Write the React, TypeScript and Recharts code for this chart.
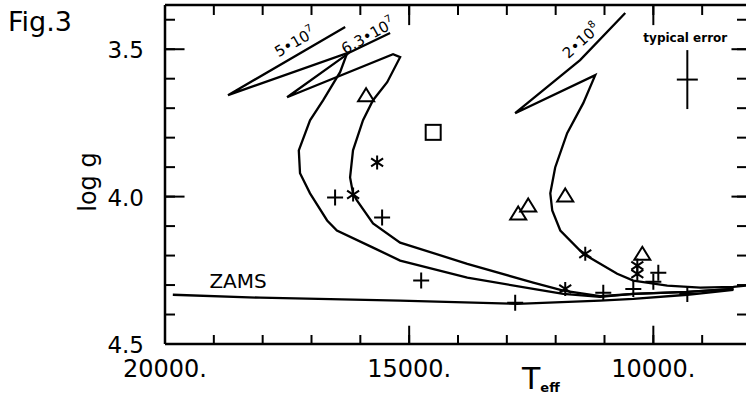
import React from 'react';
import { ComposedChart, Line, Scatter, XAxis, YAxis, ReferenceLine, ReferenceDot } from 'recharts';

// isochrones, [Teff, log g], drawn in path order (cool end along the ZAMS first)
const iso5e7: [number, number][] = [
  [8360, 4.313], [9300, 4.323], [10410, 4.33], [11090, 4.34], [11845, 4.33], [12460, 4.313],
  [13810, 4.275], [15185, 4.217], [15740, 4.173], [16480, 4.115], [16680, 4.081], [17030, 3.989],
  [17235, 3.921], [17260, 3.843], [17030, 3.741], [16760, 3.673], [16415, 3.578], [16270, 3.513],
  [18710, 3.656], [16310, 3.425],
];
const iso63e7: [number, number][] = [
  [8360, 4.313], [9300, 4.323], [10410, 4.33], [11090, 4.338], [11845, 4.319], [12460, 4.292],
  [13810, 4.228], [15185, 4.156], [15740, 4.091], [16070, 4.013], [16150, 3.989], [16210, 3.935],
  [16150, 3.843], [15945, 3.741], [15740, 3.673], [15450, 3.612], [15185, 3.527], [15330, 3.517],
  [17500, 3.663], [16210, 3.51], [15390, 3.445],
];
const iso2e8: [number, number][] = [
  [8000, 4.3], [8360, 4.306], [9040, 4.309], [9715, 4.302], [10410, 4.285], [10740, 4.262],
  [11435, 4.194], [11905, 4.115], [12070, 4.047], [12110, 3.989], [12010, 3.901], [11765, 3.785],
  [11435, 3.683], [11190, 3.588], [12830, 3.717], [11500, 3.537], [10575, 3.377],
];
const zams: [number, number][] = [
  [19840, 4.333], [18050, 4.343], [15185, 4.353], [12790, 4.364], [11090, 4.353], [10410, 4.347],
  [9300, 4.333], [8360, 4.316],
];

// stars
const triangles: [number, number][] = [
  [15882, 3.656], [12562, 4.03], [12767, 4.057], [11804, 3.996], [10226, 4.194],
];
const squares: [number, number][] = [[14508, 3.782]];
const asterisks: [number, number][] = [
  [15656, 3.884], [16148, 3.993], [11394, 4.194], [11804, 4.313], [10328, 4.234], [10328, 4.262],
];
const crosses: [number, number][] = [
  [16517, 4.003], [15554, 4.071], [14754, 4.285], [12829, 4.36], [11025, 4.326], [10410, 4.313],
  [9898, 4.258], [10000, 4.289], [9304, 4.33],
];

const errCenter = { t: 9304, g: 3.603 };
const errT = 215;
const errG = 0.1;

const T_MIN = 8000;
const T_MAX = 20000;
const G_MIN = 3.35;
const G_MAX = 4.5;
const tTicks = [9000, 10000, 11000, 12000, 13000, 14000, 15000, 16000, 17000, 18000, 19000, 20000];
const tMajor = [10000, 15000, 20000];
const gTicks = [3.4, 3.5, 3.6, 3.7, 3.8, 3.9, 4.0, 4.1, 4.2, 4.3, 4.4, 4.5];
const gMajor = [3.5, 4.0, 4.5];
// length of the long (major) tick marks, in axis units
const majorLenG = 0.062;
const majorLenT = 400;

// label anchors [Teff, log g]
const labels = [
  { t: 17336, g: 3.476, text: '5•10', sup: '7', angle: -30 },
  { t: 15840, g: 3.455, text: '6.3•10', sup: '7', angle: -29 },
  { t: 11476, g: 3.472, text: '2•10', sup: '8', angle: -42 },
];
const zamsLabel = { t: 18504, g: 4.285 };
const errLabel = { t: 9345, g: 3.462 };

const toPts = (a: [number, number][]) => a.map(([t, g]) => ({ t, g }));

const FONT = 'DejaVu Sans';
const isMajor = (v: number, list: number[]) => list.some((m) => Math.abs(m - v) < 1e-6);

const BottomTick = ({ x, y, payload }: any) => {
  if (!isMajor(payload.value, tMajor)) return <g />;
  return (
    <text x={x} y={y + 33} textAnchor="middle" fontSize={24} fontFamily={FONT} fill="#000">
      {payload.value}.
    </text>
  );
};
const LeftTick = ({ x, y, payload }: any) => {
  if (!isMajor(payload.value, gMajor)) return <g />;
  return (
    <text x={x - 21} y={y + 9} textAnchor="end" fontSize={23} fontFamily={FONT} fill="#000">
      {payload.value.toFixed(1)}
    </text>
  );
};
const NoLabel = () => <g />;

const Tri = ({ cx, cy }: any) => (
  <path d={`M${cx},${cy - 7}L${cx + 8},${cy + 6}L${cx - 8},${cy + 6}Z`} fill="none" stroke="#000" strokeWidth={2} />
);
const Sq = ({ cx, cy }: any) => (
  <rect x={cx - 7.5} y={cy - 7.5} width={15} height={15} fill="none" stroke="#000" strokeWidth={2} />
);
const Plus = ({ cx, cy }: any) => (
  <path d={`M${cx - 8},${cy}H${cx + 8}M${cx},${cy - 8}V${cy + 8}`} stroke="#000" strokeWidth={2} fill="none" />
);
const Star = ({ cx, cy }: any) => (
  <path
    d={`M${cx},${cy - 7}V${cy + 7}M${cx - 6},${cy - 4}L${cx + 6},${cy + 4}M${cx - 6},${cy + 4}L${cx + 6},${cy - 4}`}
    stroke="#000"
    strokeWidth={2}
    fill="none"
  />
);

const lineProps = {
  dataKey: 'g',
  type: 'linear' as const,
  stroke: '#000',
  strokeWidth: 2.3,
  dot: false,
  activeDot: false,
  isAnimationActive: false,
  legendType: 'none' as const,
};

const axisCommon = {
  type: 'number' as const,
  reversed: true,
  allowDataOverflow: true,
  interval: 0 as const,
  stroke: '#000',
  tickLine: { stroke: '#000', strokeWidth: 2 },
  axisLine: { stroke: '#000', strokeWidth: 2.5 },
};

export default function App() {
  return (
    <div style={{ position: 'absolute', left: 0, top: 0, width: 746, height: 397, overflow: 'hidden', background: '#fff' }}>
      <ComposedChart width={760} height={397} margin={{ top: 4, right: 8, bottom: 0, left: 0 }}>
        <XAxis
          {...axisCommon}
          dataKey="t"
          domain={[T_MIN, T_MAX]}
          ticks={tTicks}
          height={53}
          tickSize={-9}
          tickMargin={9}
          tick={<BottomTick />}
        />
        <XAxis
          {...axisCommon}
          xAxisId="top"
          dataKey="t"
          orientation="top"
          domain={[T_MIN, T_MAX]}
          ticks={tTicks}
          height={1}
          tickSize={-10}
          tickMargin={10}
          tick={<NoLabel />}
        />
        <YAxis
          {...axisCommon}
          dataKey="g"
          domain={[G_MIN, G_MAX]}
          ticks={gTicks}
          width={165}
          tickSize={-10}
          tickMargin={10}
          tick={<LeftTick />}
        />
        <YAxis
          {...axisCommon}
          yAxisId="right"
          dataKey="g"
          orientation="right"
          domain={[G_MIN, G_MAX]}
          ticks={gTicks}
          width={1}
          tickSize={-14}
          tickMargin={14}
          tick={<NoLabel />}
        />

        {/* long marks at the labelled values */}
        {tMajor.map((t) => (
          <ReferenceLine key={`b${t}`} segment={[{ x: t, y: G_MAX }, { x: t, y: G_MAX - majorLenG }]} stroke="#000" strokeWidth={2} />
        ))}
        {tMajor.map((t) => (
          <ReferenceLine key={`t${t}`} segment={[{ x: t, y: G_MIN }, { x: t, y: G_MIN + majorLenG * 1.1 }]} stroke="#000" strokeWidth={2} />
        ))}
        {gMajor.map((g) => (
          <ReferenceLine key={`l${g}`} segment={[{ x: T_MAX, y: g }, { x: T_MAX - majorLenT, y: g }]} stroke="#000" strokeWidth={2} />
        ))}
        {gMajor.map((g) => (
          <ReferenceLine key={`r${g}`} segment={[{ x: T_MIN, y: g }, { x: T_MIN + majorLenT, y: g }]} stroke="#000" strokeWidth={2} />
        ))}

        <Line {...lineProps} data={toPts(zams)} />
        <Line {...lineProps} data={toPts(iso5e7)} />
        <Line {...lineProps} data={toPts(iso63e7)} />
        <Line {...lineProps} data={toPts(iso2e8)} />

        <Scatter data={toPts(triangles)} shape={<Tri />} isAnimationActive={false} />
        <Scatter data={toPts(squares)} shape={<Sq />} isAnimationActive={false} />
        <Scatter data={toPts(asterisks)} shape={<Star />} isAnimationActive={false} />
        <Scatter data={toPts(crosses)} shape={<Plus />} isAnimationActive={false} />

        <ReferenceLine
          segment={[{ x: errCenter.t, y: errCenter.g - errG }, { x: errCenter.t, y: errCenter.g + errG }]}
          stroke="#000"
          strokeWidth={2}
        />
        <ReferenceLine
          segment={[{ x: errCenter.t + errT, y: errCenter.g }, { x: errCenter.t - errT, y: errCenter.g }]}
          stroke="#000"
          strokeWidth={2}
        />
        <ReferenceDot
          x={errLabel.t}
          y={errLabel.g}
          r={0}
          shape={({ cx, cy }: any) => (
            <text x={cx} y={cy + 4} textAnchor="middle" fontSize={12} fontWeight="bold" fontFamily={FONT} fill="#000">
              typical error
            </text>
          )}
        />
        <ReferenceDot
          x={zamsLabel.t}
          y={zamsLabel.g}
          r={0}
          shape={({ cx, cy }: any) => (
            <text x={cx} y={cy + 7} textAnchor="middle" fontSize={20} fontFamily={FONT} fill="#000">
              ZAMS
            </text>
          )}
        />
        {labels.map((l) => (
          <ReferenceDot
            key={l.text}
            x={l.t}
            y={l.g}
            r={0}
            shape={({ cx, cy }: any) => (
              <text
                x={cx}
                y={cy + 5}
                textAnchor="middle"
                fontSize={15}
                fontFamily={FONT}
                fill="#000"
                transform={`rotate(${l.angle} ${cx} ${cy})`}
              >
                {l.text}
                <tspan fontSize={10} dy={-7}>{l.sup}</tspan>
              </text>
            )}
          />
        ))}
      </ComposedChart>
      <svg width={746} height={397} style={{ position: 'absolute', left: 0, top: 0, pointerEvents: 'none' }}>
        <text x={8} y={31} fontSize={27} fontFamily={FONT} fill="#000">Fig.3</text>
        <text
          x={96}
          y={182}
          fontSize={24}
          fontFamily={FONT}
          fill="#000"
          textAnchor="middle"
          transform="rotate(-90 96 182)"
        >
          log g
        </text>
        <text x={522} y={389} fontSize={30} fontFamily={FONT} fill="#000">
          T<tspan fontSize={13} fontWeight="bold" dy={3}>eff</tspan>
        </text>
      </svg>
    </div>
  );
}
